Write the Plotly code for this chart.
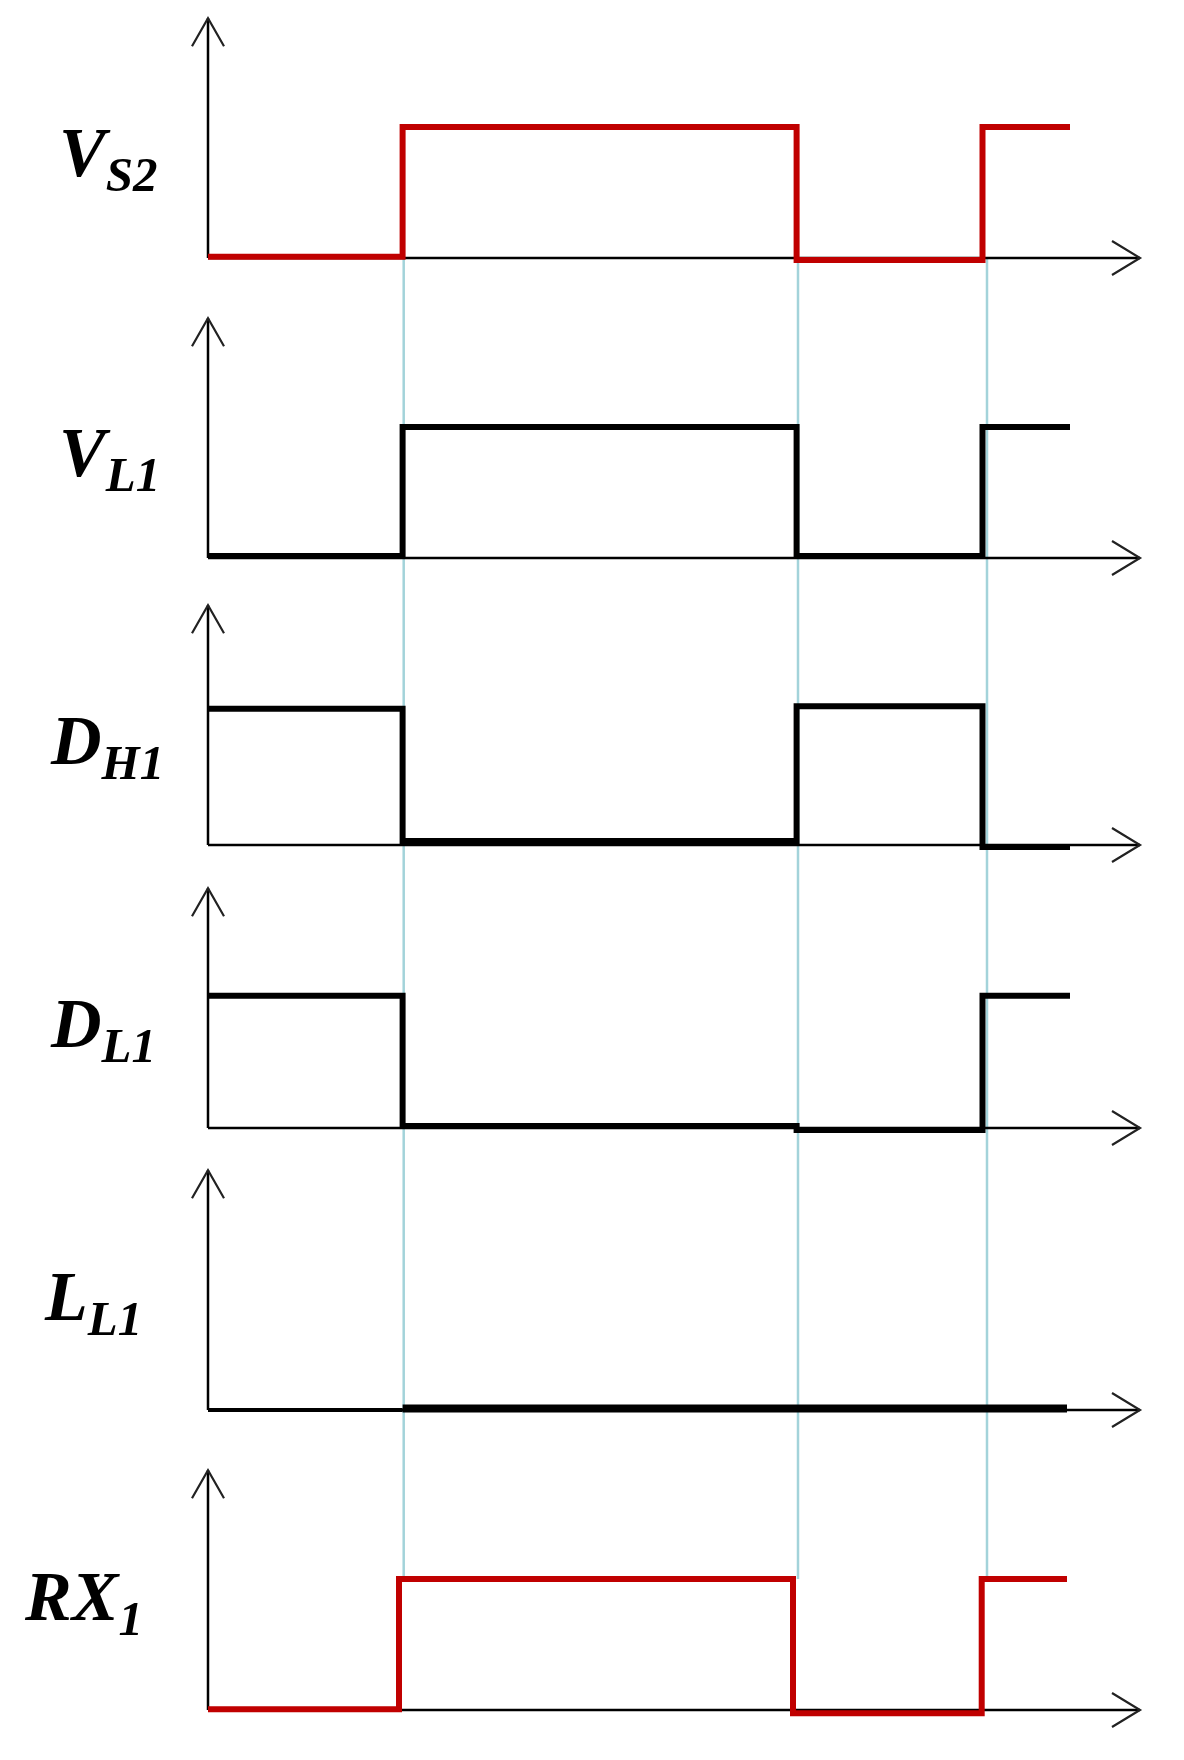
import plotly.graph_objects as go

W, H = 1184, 1760

# ---------------- data ----------------
# signal names (main letter + subscript)
label_main = ["V", "V", "D", "D", "L", "RX"]
label_sub = ["S2", "L1", "H1", "L1", "L1", "1"]

# step times (arbitrary time units) and levels (normalised, held until next time)
vs2_t = [0.0, 1.946, 5.886, 7.745, 8.62]
vs2_v = [0.01, 1.0, -0.015, 1.0, 1.0]

vl1_t = [0.0, 1.946, 5.886, 7.745, 8.62]
vl1_v = [0.015, 1.0, 0.015, 1.0, 1.0]

dh1_t = [0.0, 1.946, 5.886, 7.745, 8.62]
dh1_v = [1.04, 0.03, 1.06, -0.015, -0.015]

dl1_t = [0.0, 1.946, 5.886, 7.745, 8.62]
dl1_v = [1.01, 0.015, -0.015, 1.01, 1.01]

ll1_t = [0.0, 1.946, 8.59]
ll1_v = [0.0, 0.012, 0.012]

rx1_t = [0.0, 1.91, 5.85, 7.737, 8.59]
rx1_v = [0.005, 1.0, -0.025, 1.0, 1.0]

# vertical reference (switching instants)
event_t = [1.957, 5.90, 7.79]

# time-axis extent and vertical-axis extent (level units)
t_axis_end = 9.32
y_axis_top = 1.83

# ---------------- styling / layout ----------------
RED = "#c00000"
BLACK = "#000000"
CYAN = "#a3d3da"

baselines_px = [258, 558, 845, 1128, 1410, 1710]
unit_px = 131.0
y_lo, y_hi = -0.25, 1.9
x_origin_px = 208.0
x_unit_px = 100.0

label_x_px = [57, 57, 48, 48, 42, 22]
label_y_px = [158, 458, 746, 1029, 1302, 1602]

signals = [
    (vs2_t, vs2_v, RED),
    (vl1_t, vl1_v, BLACK),
    (dh1_t, dh1_v, BLACK),
    (dl1_t, dl1_v, BLACK),
    (ll1_t, ll1_v, BLACK),
    (rx1_t, rx1_v, RED),
]

fig = go.Figure()

domains = []
for i, b in enumerate(baselines_px):
    bottom_px = b - y_lo * unit_px
    top_px = b - y_hi * unit_px
    domains.append((1 - bottom_px / H, 1 - top_px / H))


def to_paper(panel, val):
    d0, d1 = domains[panel]
    return d0 + (val - y_lo) / (y_hi - y_lo) * (d1 - d0)


shapes = []
annotations = []

for i, (t, v, col) in enumerate(signals):
    yname = "y" if i == 0 else f"y{i+1}"
    # axes (below signals)
    shapes.append(dict(type="line", xref="x", yref=yname, x0=0, x1=0, y0=0, y1=y_axis_top,
                       line=dict(color=BLACK, width=2.5), layer="below"))
    shapes.append(dict(type="line", xref="x", yref=yname, x0=0, x1=t_axis_end, y0=0, y1=0,
                       line=dict(color=BLACK, width=2.5), layer="below"))
    # open chevron arrow heads
    shapes.append(dict(type="path", xref="x", yref=yname, xsizemode="pixel", ysizemode="pixel",
                       xanchor=0, yanchor=y_axis_top, path="M -16 -28 L 0 0 L 16 -28",
                       line=dict(color="#222222", width=2.2)))
    shapes.append(dict(type="path", xref="x", yref=yname, xsizemode="pixel", ysizemode="pixel",
                       xanchor=t_axis_end, yanchor=0, path="M -28 17 L 0 0 L -28 -17",
                       line=dict(color="#222222", width=2.2)))

    if i == 4:
        # L_L1: thin before first edge, thick afterwards
        fig.add_trace(go.Scatter(x=t[:2], y=v[:1] * 2, mode="lines", line=dict(color=col, width=4),
                                 yaxis=yname, hoverinfo="skip"))
        fig.add_trace(go.Scatter(x=t[1:], y=v[1:], mode="lines", line=dict(color=col, width=8),
                                 yaxis=yname, hoverinfo="skip"))
    else:
        fig.add_trace(go.Scatter(x=t, y=v, mode="lines", line=dict(color=col, width=6, shape="hv"),
                                 yaxis=yname, hoverinfo="skip"))

    # label
    annotations.append(dict(
        xref="paper", yref="paper",
        x=label_x_px[i] / W,
        y=1 - label_y_px[i] / H,
        xanchor="left", yanchor="middle", showarrow=False,
        text=f"<b><i>{label_main[i]}<sub>{label_sub[i]}</sub></i></b>",
        font=dict(family="Liberation Serif", size=70, color=BLACK),
    ))

# cyan event lines spanning from first panel baseline to last panel high level
for te in event_t:
    shapes.append(dict(type="line", xref="x", yref="paper", x0=te, x1=te,
                       y0=to_paper(0, 0.0), y1=to_paper(5, 1.0),
                       line=dict(color=CYAN, width=2.5), layer="below"))

layout = dict(
    width=W, height=H,
    margin=dict(l=0, r=0, t=0, b=0),
    paper_bgcolor="white", plot_bgcolor="white",
    showlegend=False,
    xaxis=dict(range=[-x_origin_px / x_unit_px, (W - x_origin_px) / x_unit_px], domain=[0, 1],
               visible=False, fixedrange=True),
    shapes=shapes,
    annotations=annotations,
)
for i in range(6):
    key = "yaxis" if i == 0 else f"yaxis{i+1}"
    layout[key] = dict(domain=list(domains[i]), range=[y_lo, y_hi], visible=False, fixedrange=True,
                       anchor="x")

fig.update_layout(**layout)
fig.write_html("out.html", config={"displayModeBar": False},
               post_script="document.body.style.margin='0';document.body.style.padding='0';")
